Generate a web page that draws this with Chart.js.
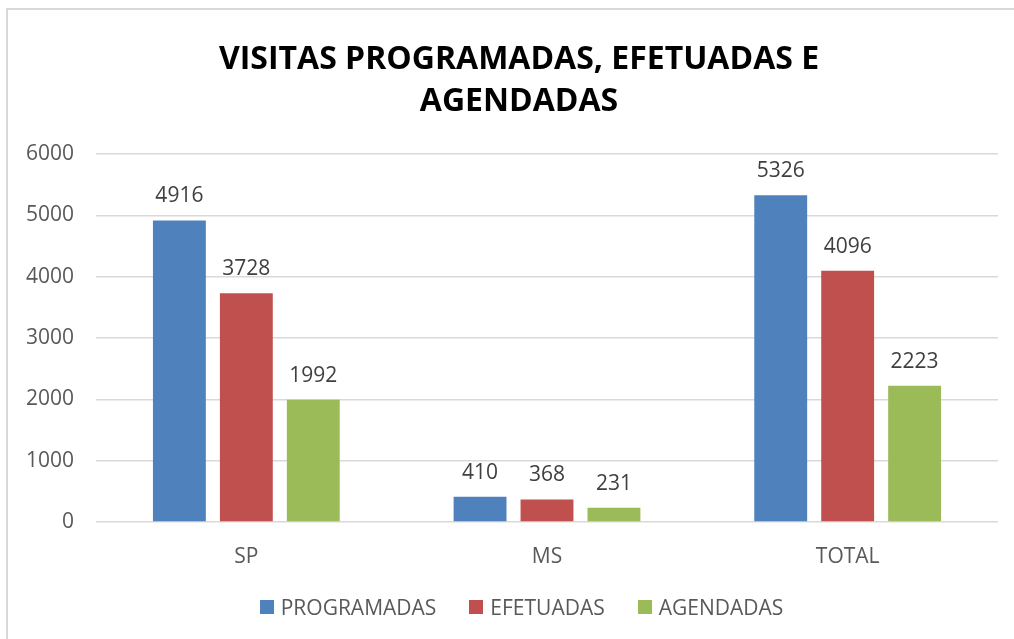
<!DOCTYPE html>
<html>
<head>
<meta charset="utf-8">
<script src="https://cdn.jsdelivr.net/npm/chart.js@4.4.1/dist/chart.umd.min.js"></script>
<style>
  html, body { margin: 0; padding: 0; background: #fff; overflow: hidden; }
  #frame { position: absolute; left: 6px; top: 8px; width: 1100px; height: 700px; border: 2px solid #d9d9d9; box-sizing: border-box; }
  #wrap { position: absolute; left: 0; top: 0; width: 1014px; height: 639px; }
  #title { position: absolute; left: 0; top: 36px; width: 1038px; text-align: center; font-family: 'Open Sans', 'Noto Sans', sans-serif;
           font-weight: bold; font-size: 32px; line-height: 42px; color: #000; white-space: nowrap; }
  #legend { position: absolute; left: 0; top: 592px; width: 1043px; height: 30px; display: flex; justify-content: center; align-items: center; gap: 33px;
            font-family: 'Open Sans', 'Noto Sans', sans-serif; font-size: 21px; color: #595959; }
  #legend .item { display: flex; align-items: center; gap: 7px; white-space: nowrap; }
  #legend .sw { width: 14px; height: 14px; display: inline-block; }
</style>
</head>
<body>
<div id="frame"></div>
<div id="wrap"><canvas id="c" width="1014" height="639"></canvas></div>
<div id="title"></div>
<div id="legend"></div>
<script>
const categories = ['SP', 'MS', 'TOTAL'];
const programadas = [4916, 410, 5326];
const efetuadas = [3728, 368, 4096];
const agendadas = [1992, 231, 2223];
const seriesNames = ['PROGRAMADAS', 'EFETUADAS', 'AGENDADAS'];
const yTicks = [0, 1000, 2000, 3000, 4000, 5000, 6000];
const titleLines = ['VISITAS PROGRAMADAS, EFETUADAS E', 'AGENDADAS'];

const FONT = "'Open Sans', 'Noto Sans', sans-serif";
const colors = ['#4f81bd', '#c0504d', '#9bbb59'];

const valueLabels = {
  id: 'valueLabels',
  afterDatasetsDraw(chart) {
    const ctx = chart.ctx;
    ctx.save();
    ctx.font = '21px ' + FONT;
    ctx.fillStyle = '#404040';
    ctx.textAlign = 'center';
    ctx.textBaseline = 'middle';
    chart.data.datasets.forEach((ds, i) => {
      const meta = chart.getDatasetMeta(i);
      meta.data.forEach((bar, j) => {
        ctx.fillText(String(ds.data[j]), bar.x, bar.y - 24);
      });
    });
    ctx.restore();
  }
};

const chart = new Chart(document.getElementById('c'), {
  type: 'bar',
  data: {
    labels: categories,
    datasets: [programadas, efetuadas, agendadas].map((d, i) => ({
      label: seriesNames[i],
      data: d,
      backgroundColor: colors[i],
      borderWidth: 0,
      categoryPercentage: 0.668,
      barPercentage: 0.79
    }))
  },
  options: {
    responsive: false,
    animation: false,
    devicePixelRatio: 1,
    layout: { padding: { left: 0, right: 16, top: 154, bottom: 53 } },
    plugins: {
      title: { display: false },
      legend: { display: false },
      tooltip: { enabled: false }
    },
    scales: {
      x: {
        grid: { display: false, drawTicks: false },
        border: { display: false },
        ticks: { color: '#595959', font: { family: FONT, size: 21 }, padding: 22 },
        afterFit(s) { s.height = 64; }
      },
      y: {
        min: 0,
        max: 6000,
        afterBuildTicks(s) { s.ticks = yTicks.map(v => ({ value: v })); },
        grid: { color: '#d9d9d9', lineWidth: 1.5, drawTicks: false },
        border: { display: false },
        ticks: { color: '#595959', font: { family: FONT, size: 21 }, padding: 22, callback: v => String(v) },
        afterFit(s) { s.width = 96; }
      }
    }
  },
  plugins: [valueLabels]
});

const titleEl = document.getElementById('title');
titleLines.forEach(line => {
  const d = document.createElement('div');
  d.textContent = line;
  titleEl.appendChild(d);
});

const legendEl = document.getElementById('legend');
chart.data.datasets.forEach(ds => {
  const item = document.createElement('span');
  item.className = 'item';
  const sw = document.createElement('span');
  sw.className = 'sw';
  sw.style.background = ds.backgroundColor;
  const t = document.createElement('span');
  t.textContent = ds.label;
  item.appendChild(sw);
  item.appendChild(t);
  legendEl.appendChild(item);
});
</script>
</body>
</html>
